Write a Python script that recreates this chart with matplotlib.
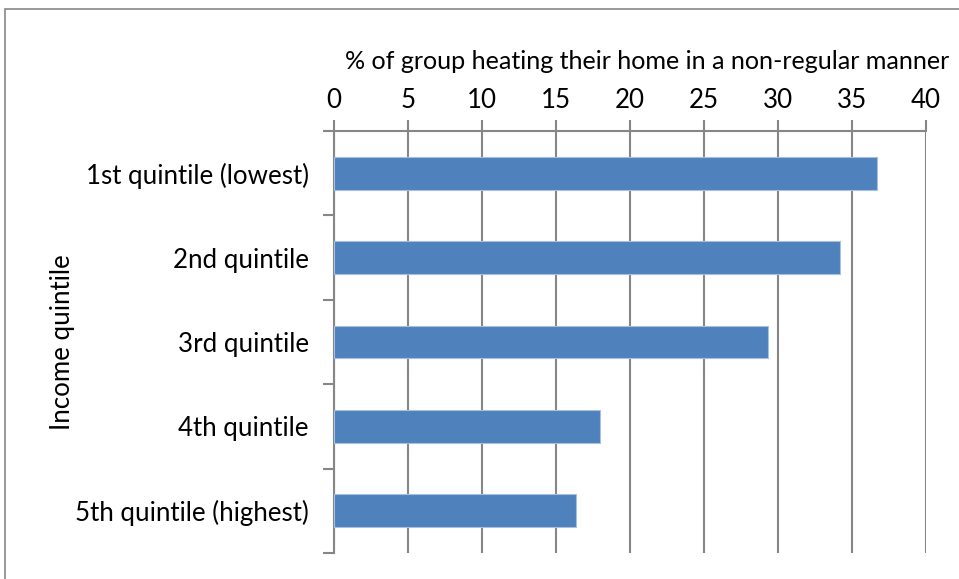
import matplotlib
matplotlib.use("Agg")
import matplotlib.pyplot as plt

categories = ["1st quintile (lowest)", "2nd quintile", "3rd quintile", "4th quintile", "5th quintile (highest)"]
values = [36.7, 34.2, 29.3, 18.0, 16.35]
xticks = [0, 5, 10, 15, 20, 25, 30, 35, 40]

BAR = "#4F81BD"; GRID = "#868686"
plt.rcParams["font.family"] = ["Lato", "DejaVu Sans"]
FS = 18.6

W, H = 959, 579
fig = plt.figure(figsize=(W / 100, H / 100), dpi=100)
ax = fig.add_axes([334 / W, 1 - 553 / H, (926 - 334) / W, (553 - 131) / H])

y = list(range(len(categories)))
ax.barh(y, values, height=0.39, color=BAR, edgecolor="#A7C0DE", linewidth=0.8, zorder=3)
ax.set_ylim(len(categories) - 0.5, -0.5)
ax.set_xlim(0, 40)
ax.set_xticks(xticks)
ax.xaxis.tick_top()
ax.xaxis.set_label_position("top")
ax.set_xlabel("% of group heating their home in a non-regular manner", fontsize=18.1, labelpad=14)
ax.xaxis.label.set_x(0.529)
ax.tick_params(axis="x", labelsize=FS, length=8, width=1.5, color=GRID, pad=5)
ax.set_yticks(y)
ax.set_yticklabels(categories, fontsize=FS)
ax.set_yticks([i - 0.5 for i in range(len(categories) + 1)], minor=True)
ax.tick_params(axis="y", which="major", length=0, pad=18)
ax.tick_params(axis="y", which="minor", length=8, width=1.5, color=GRID)
ax.set_ylabel("Income quintile", fontsize=FS, labelpad=0)
ax.grid(axis="x", color=GRID, linewidth=1.5, zorder=0)
for s in ["right", "bottom"]:
    ax.spines[s].set_visible(False)
for s in ["top", "left"]:
    ax.spines[s].set_color(GRID)
    ax.spines[s].set_linewidth(1.5)

fig.patches.append(plt.Rectangle((5 / W, -0.1), 1.2, 1 - 9 / H + 0.1, transform=fig.transFigure,
                                 fill=False, edgecolor="#888888", linewidth=1.2))
fig.savefig("out.png", dpi=100, facecolor="white")
